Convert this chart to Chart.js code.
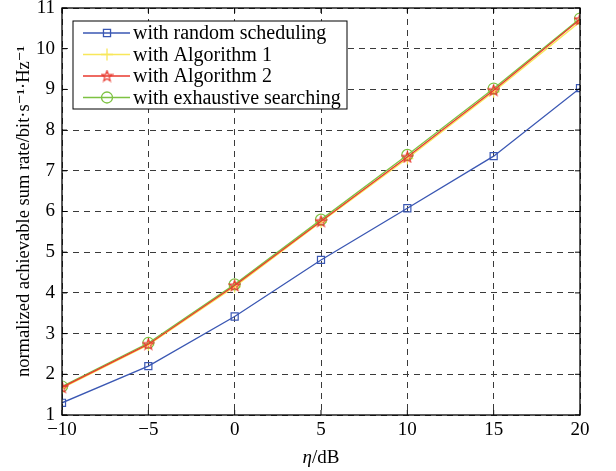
<!DOCTYPE html>
<html>
<head>
<meta charset="utf-8">
<script src="https://cdn.jsdelivr.net/npm/chart.js@4.4.1/dist/chart.umd.min.js"></script>
<style>
  html, body { margin: 0; padding: 0; background: #fff; }
  #wrap { width: 616px; height: 471px; }
</style>
</head>
<body>
<div id="wrap"><canvas id="rateChart" width="616" height="471"></canvas></div>
<script>
// valores
const etaDb = [-10, -5, 0, 5, 10, 15, 20];
const randomRate = [1.30, 2.20, 3.42, 4.81, 6.08, 7.36, 9.03];
const alg1Rate = [1.66, 2.72, 4.15, 5.74, 7.30, 8.94, 10.66];
const alg2Rate = [1.68, 2.74, 4.18, 5.76, 7.34, 8.98, 10.72];
const exhaustiveRate = [1.70, 2.77, 4.21, 5.80, 7.39, 9.02, 10.74];
const xTicks = [-10, -5, 0, 5, 10, 15, 20];
const yTicks = [1, 2, 3, 4, 5, 6, 7, 8, 9, 10, 11];

const serif = '"Liberation Serif", "DejaVu Serif", serif';

function toPoints(values) {
    return etaDb.map((x, i) => ({ x: x, y: values[i] }));
}

// estrella de cinco puntas para el algoritmo 2
function makeStar(color) {
    const c = document.createElement('canvas');
    c.width = 13; c.height = 13;
    const g = c.getContext('2d');
    g.strokeStyle = color;
    g.lineWidth = 1.2;
    g.beginPath();
    for (let i = 0; i < 10; i++) {
        const r = i % 2 === 0 ? 5.6 : 2.3;
        const a = -Math.PI / 2 + i * Math.PI / 5;
        const px = 6.5 + r * Math.cos(a), py = 6.9 + r * Math.sin(a);
        if (i === 0) g.moveTo(px, py); else g.lineTo(px, py);
    }
    g.closePath();
    g.stroke();
    return c;
}

const frameAndLegend = {
    id: 'frameAndLegend',
    afterDraw(chart) {
        const ctx = chart.ctx;
        const a = chart.chartArea;
        const xs = chart.scales.x, ys = chart.scales.y;
        ctx.save();
        ctx.strokeStyle = '#000';
        ctx.lineWidth = 1.3;
        ctx.setLineDash([]);
        ctx.strokeRect(a.left, a.top, a.right - a.left, a.bottom - a.top);
        // marcas hacia dentro en los cuatro lados
        ctx.lineWidth = 1;
        ctx.beginPath();
        xTicks.forEach(v => {
            const px = xs.getPixelForValue(v);
            ctx.moveTo(px, a.bottom); ctx.lineTo(px, a.bottom - 5);
            ctx.moveTo(px, a.top); ctx.lineTo(px, a.top + 5);
        });
        yTicks.forEach(v => {
            const py = ys.getPixelForValue(v);
            ctx.moveTo(a.left, py); ctx.lineTo(a.left + 5, py);
            ctx.moveTo(a.right, py); ctx.lineTo(a.right - 5, py);
        });
        ctx.stroke();

        // leyenda
        const box = { left: 73, top: 21, width: 274, height: 88 };
        ctx.fillStyle = '#fff';
        ctx.fillRect(box.left, box.top, box.width, box.height);
        ctx.strokeStyle = '#000';
        ctx.lineWidth = 1;
        ctx.strokeRect(box.left, box.top, box.width, box.height);
        ctx.font = '20px ' + serif;
        ctx.textBaseline = 'middle';
        ctx.textAlign = 'left';
        chart.data.datasets.forEach((ds, i) => {
            const y = 33 + i * 21.5;
            ctx.strokeStyle = ds.borderColor;
            ctx.lineWidth = 1.3;
            ctx.beginPath();
            ctx.moveTo(83, y); ctx.lineTo(130, y);
            ctx.stroke();
            ctx.fillStyle = 'rgba(0,0,0,0)';
            Chart.helpers.drawPoint(ctx, {
                pointStyle: ds.pointStyle, radius: ds.pointRadius,
                rotation: 0, borderWidth: 1.2
            }, 107, y);
            ctx.fillStyle = '#000';
            ctx.fillText(ds.label, 133, y + 1);
        });

        // título del eje x con eta en cursiva
        ctx.font = 'italic 19px ' + serif;
        const w1 = ctx.measureText('η').width;
        ctx.font = '19px ' + serif;
        const w2 = ctx.measureText('/dB').width;
        const cx = (a.left + a.right) / 2;
        const x0 = cx - (w1 + w2) / 2;
        ctx.textBaseline = 'alphabetic';
        ctx.font = 'italic 19px ' + serif;
        ctx.fillText('η', x0, 463);
        ctx.font = '19px ' + serif;
        ctx.fillText('/dB', x0 + w1, 463);
        ctx.restore();
    }
};

const ctx = document.getElementById('rateChart').getContext('2d');

new Chart(ctx, {
    type: 'line',
    data: {
        datasets: [
            {
                label: 'with random scheduling',
                data: toPoints(randomRate),
                borderColor: '#3a57b3',
                pointStyle: 'rect',
                pointRadius: 5,
                order: 4
            },
            {
                label: 'with Algorithm 1',
                data: toPoints(alg1Rate),
                borderColor: '#f8e75a',
                pointStyle: 'cross',
                pointRadius: 6,
                order: 3
            },
            {
                label: 'with Algorithm 2',
                data: toPoints(alg2Rate),
                borderColor: '#e8392e',
                pointStyle: makeStar('#e8392e'),
                pointRadius: 5,
                order: 1
            },
            {
                label: 'with exhaustive searching',
                data: toPoints(exhaustiveRate),
                borderColor: '#7dc242',
                pointStyle: 'circle',
                pointRadius: 5.5,
                order: 2
            }
        ].map(ds => Object.assign({
            borderWidth: 1.3,
            pointBorderWidth: 1.2,
            pointBackgroundColor: 'rgba(0,0,0,0)',
            pointBorderColor: ds.borderColor,
            tension: 0,
            fill: false
        }, ds))
    },
    options: {
        responsive: false,
        animation: false,
        layout: { padding: { left: 0, right: 36, top: 8, bottom: 0 } },
        plugins: {
            legend: { display: false },
            tooltip: { enabled: false }
        },
        scales: {
            x: {
                type: 'linear',
                min: -10,
                max: 20,
                afterBuildTicks: s => { s.ticks = xTicks.map(v => ({ value: v })); },
                afterFit: s => { s.height = 56; s.paddingLeft = 0; s.paddingRight = 0; },
                ticks: {
                    color: '#000',
                    font: { family: serif, size: 19 },
                    padding: 4,
                    maxRotation: 0,
                    callback: v => String(v).replace('-', '\u2212')
                },
                grid: { color: '#3a3a3a', lineWidth: 1, drawTicks: false },
                border: { display: false, dash: [6, 5] }
            },
            y: {
                min: 1,
                max: 11,
                afterBuildTicks: s => { s.ticks = yTicks.map(v => ({ value: v })); },
                afterFit: s => { s.width = 62; s.paddingTop = 0; s.paddingBottom = 0; },
                ticks: {
                    color: '#000',
                    font: { family: serif, size: 19 },
                    padding: 7
                },
                title: {
                    display: true,
                    text: 'normalized achievable sum rate/bit\u00b7s\u207b\u00b9\u00b7Hz\u207b\u00b9',
                    color: '#000',
                    font: { family: serif, size: 18.5 },
                    padding: { top: 13, bottom: 0 }
                },
                grid: { color: '#3a3a3a', lineWidth: 1, drawTicks: false },
                border: { display: false, dash: [6, 5] }
            }
        }
    },
    plugins: [frameAndLegend]
});
</script>
</body>
</html>
